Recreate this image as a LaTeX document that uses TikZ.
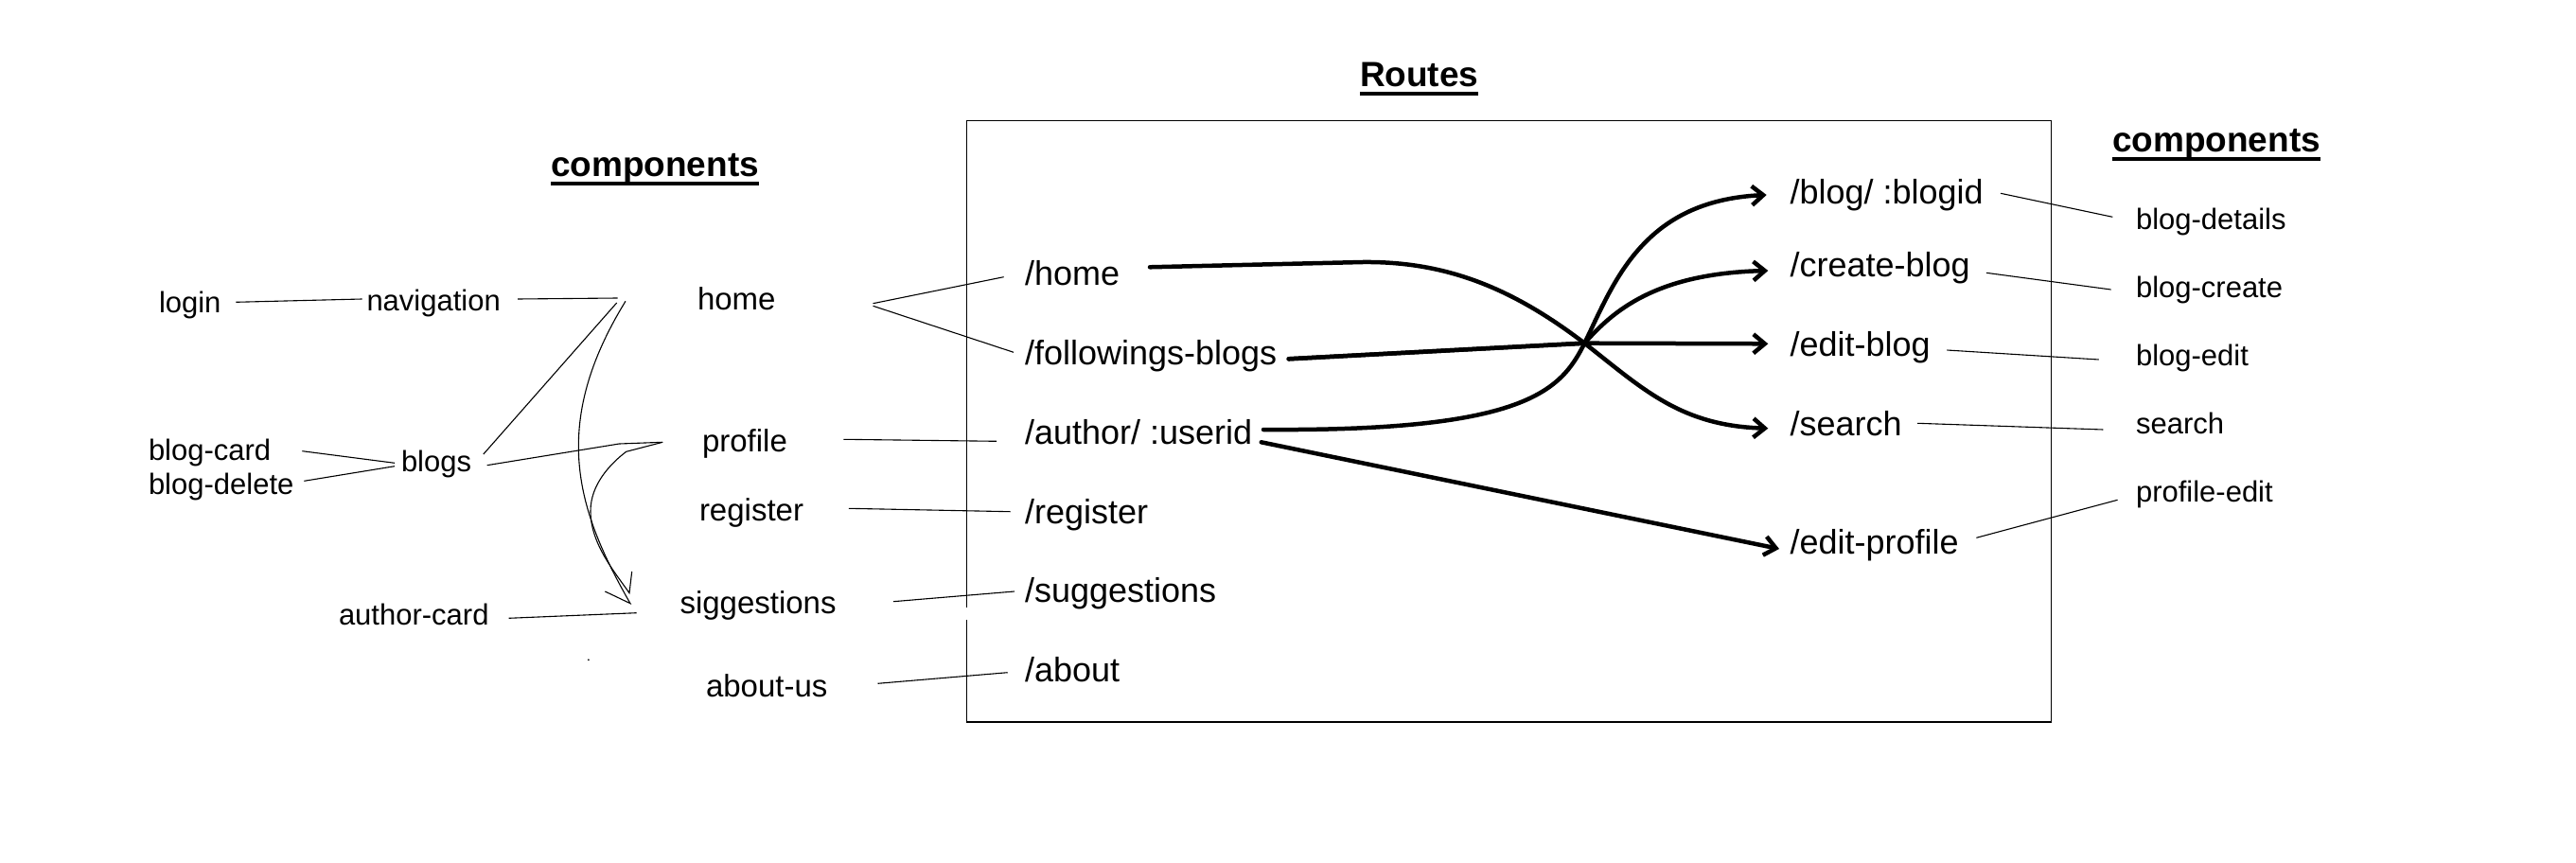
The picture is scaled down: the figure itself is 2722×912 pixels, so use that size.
\documentclass[tikz,border=0pt]{standalone}
\usepackage{fontspec}
\setmainfont{Liberation Sans}
\usetikzlibrary{arrows.meta}
\begin{document}
\begin{tikzpicture}[x=1pt,y=-1pt,
  lblroute/.style={font=\fontsize{36}{40}\selectfont, inner sep=0pt, outer sep=0pt, anchor=base west},
  lblcomp/.style={font=\fontsize{33}{36}\selectfont, inner sep=0pt, outer sep=0pt, anchor=base west},
  lblsmall/.style={font=\fontsize{31}{34}\selectfont, inner sep=0pt, outer sep=0pt, anchor=base west},
  lblhead/.style={font=\fontsize{37}{40}\selectfont\bfseries, inner sep=0pt, outer sep=0pt, anchor=base west},
  thinln/.style={line width=1.1pt},
  boxln/.style={line width=1.4pt},
  uline/.style={line width=3.6pt},
  boldarr/.style={line width=4.5pt, line cap=round, line join=round, -{Straight Barb[length=12pt,width=20pt]}}
]
\useasboundingbox (0,0) rectangle (2722,912);

% headings
\node[lblhead] (h1) at (582,186.7) {components};
\node[lblhead] (h2) at (1437,91.7) {Routes};
\node[lblhead] (h3) at (2232,160.7) {components};
\foreach \h in {h1,h2,h3}
  \draw[uline] ([shift={(0,7.5)}]\h.base west) -- ([shift={(0,7.5)}]\h.base east);

% routes box
\draw[boxln] (1021.7,641.7) -- (1021.7,127.3) -- (2167.3,127.3) -- (2167.3,763) -- (1021.7,763) -- (1021.7,655);

% left components
\node[lblsmall] (lgn) at (168,330.7) {login};
\node[lblsmall] (nav) at (387.5,328.3) {navigation};
\node[lblsmall] (bc) at (157,486) {blog-card};
\node[lblsmall] (bd) at (157,522.7) {blog-delete};
\node[lblsmall] (blg) at (424,498) {blogs};
\node[lblsmall] (ac) at (358,660) {author-card};
\node[lblcomp] (hm) at (737,327) {home};
\node[lblcomp] (pf) at (742,477) {profile};
\node[lblcomp] (rg) at (739,550) {register};
\node[lblcomp] (sg) at (718.5,648) {siggestions};
\node[lblcomp] (ab) at (746,736) {about-us};

% routes
\node[lblroute] (rh) at (1083,301.7) {/home};
\node[lblroute] (rf) at (1083,385) {/followings-blogs};
\node[lblroute] (ra) at (1083,469) {/author/ :userid};
\node[lblroute] (rr) at (1083,553) {/register};
\node[lblroute] (rs) at (1083,636.7) {/suggestions};
\node[lblroute] (rab) at (1083,720.7) {/about};
\node[lblroute] (rb) at (1891.5,215.7) {/blog/ :blogid};
\node[lblroute] (rc) at (1891.5,292.7) {/create-blog};
\node[lblroute] (re) at (1891.5,376.7) {/edit-blog};
\node[lblroute] (rse) at (1891.5,460) {/search};
\node[lblroute] (rep) at (1891.5,585) {/edit-profile};

% right components
\node[lblsmall] (cd) at (2257,242.7) {blog-details};
\node[lblsmall] (cc) at (2257,314.3) {blog-create};
\node[lblsmall] (ce) at (2257,386.7) {blog-edit};
\node[lblsmall] (cs) at (2257,458.3) {search};
\node[lblsmall] (cp) at (2257,530) {profile-edit};

\coordinate (X) at (1674.3,362.7);

% thin connectors, left side
\draw[thinln] ([shift={(81.4,-11.4)}]lgn.base west) -- ([shift={(-4.9,-12.3)}]nav.base west);
\draw[thinln] ([shift={(-84.3,-12)}]hm.base west) -- ([shift={(159.5,-12.3)}]nav.base west);
\draw[thinln] ([shift={(-85.3,-7)}]hm.base west) -- ([shift={(86.8,-18)}]blg.base west);
\draw[thinln] ([shift={(-76,-8.7)}]hm.base west) .. controls (580,450) and (610,540) .. ([shift={(-52.5,-10.3)}]sg.base west) -- ++(-26.7,-12.7);
\draw[thinln] ([shift={(-41.8,-9.7)}]pf.base west) -- (654.3,469) -- ([shift={(90.6,-6.3)}]blg.base west);
\draw[thinln] ([shift={(-41.8,-9.7)}]pf.base west) -- (661.7,477.3) .. controls (645,490) and (624,512) .. (624,540) .. controls (624,575) and (650,605) .. ([shift={(-53.5,-21.3)}]sg.base west) -- ++(2.7,-22.7);
\draw[thinln] ([shift={(162.4,-9.3)}]bc.base west) -- ([shift={(-7,-8.7)}]blg.base west);
\draw[thinln] ([shift={(164.4,-14.4)}]bd.base west) -- ([shift={(-7,-5.3)}]blg.base west);
\draw[thinln] ([shift={(179.6,-6.7)}]ac.base west) -- ([shift={(-45.8,-0.3)}]sg.base west);
\fill (621.8,697.3) circle (1);

% thin connectors, components to routes
\draw[thinln] ([shift={(185.5,-6.3)}]hm.base west) -- ([shift={(-22.4,-9)}]rh.base west);
\draw[thinln] ([shift={(185.5,-3.7)}]hm.base west) -- ([shift={(-12,-12.7)}]rf.base west);
\draw[thinln] ([shift={(149.4,-12.7)}]pf.base west) -- ([shift={(-30,-2.7)}]ra.base west);
\draw[thinln] ([shift={(157.8,-12.7)}]rg.base west) -- ([shift={(-15.4,-12.3)}]rr.base west);
\draw[thinln] ([shift={(225.5,-12.3)}]sg.base west) -- ([shift={(-11.2,-11.7)}]rs.base west);
\draw[thinln] ([shift={(181.5,-13.7)}]ab.base west) -- ([shift={(-18.3,-10)}]rab.base west);

% thin connectors, routes to right components
\draw[thinln] ([shift={(222.5,-11.4)}]rb.base west) -- ([shift={(-24.7,-13.4)}]cd.base west);
\draw[thinln] ([shift={(207.3,-4.4)}]rc.base west) -- ([shift={(-26.4,-8.3)}]cc.base west);
\draw[thinln] ([shift={(165.8,-6.7)}]re.base west) -- ([shift={(-39.3,-6.7)}]ce.base west);
\draw[thinln] ([shift={(134.7,-12.7)}]rse.base west) -- ([shift={(-34.7,-4.3)}]cs.base west);
\draw[thinln] ([shift={(196.9,-16.7)}]rep.base west) -- ([shift={(-19.4,-1.7)}]cp.base west);

% thick arrows
\draw[boldarr] ([shift={(132,-19.4)}]rh.base west) -- (1440,277) .. controls (1530,276) and (1600,306) .. (X) .. controls (1735,410) and (1775,450) .. ([shift={(-23.2,-7.3)}]rse.base west);
\draw[boldarr] ([shift={(278.7,-5.7)}]rf.base west) -- (X) -- ([shift={(-23.2,-13.4)}]re.base west);
\draw[boldarr] ([shift={(278.7,-5.7)}]rf.base west) -- (X) .. controls (1705,328) and (1750,289) .. ([shift={(-23.2,-6.7)}]rc.base west);
\draw[boldarr] ([shift={(252,-15)}]ra.base west) .. controls (1610,456) and (1649,414) .. (X) .. controls (1705,300) and (1735,212) .. ([shift={(-24.8,-9.7)}]rb.base west);
\draw[boldarr] ([shift={(249.7,-1.7)}]ra.base west) -- ([shift={(-11.5,-5)}]rep.base west);
\end{tikzpicture}
\end{document}
